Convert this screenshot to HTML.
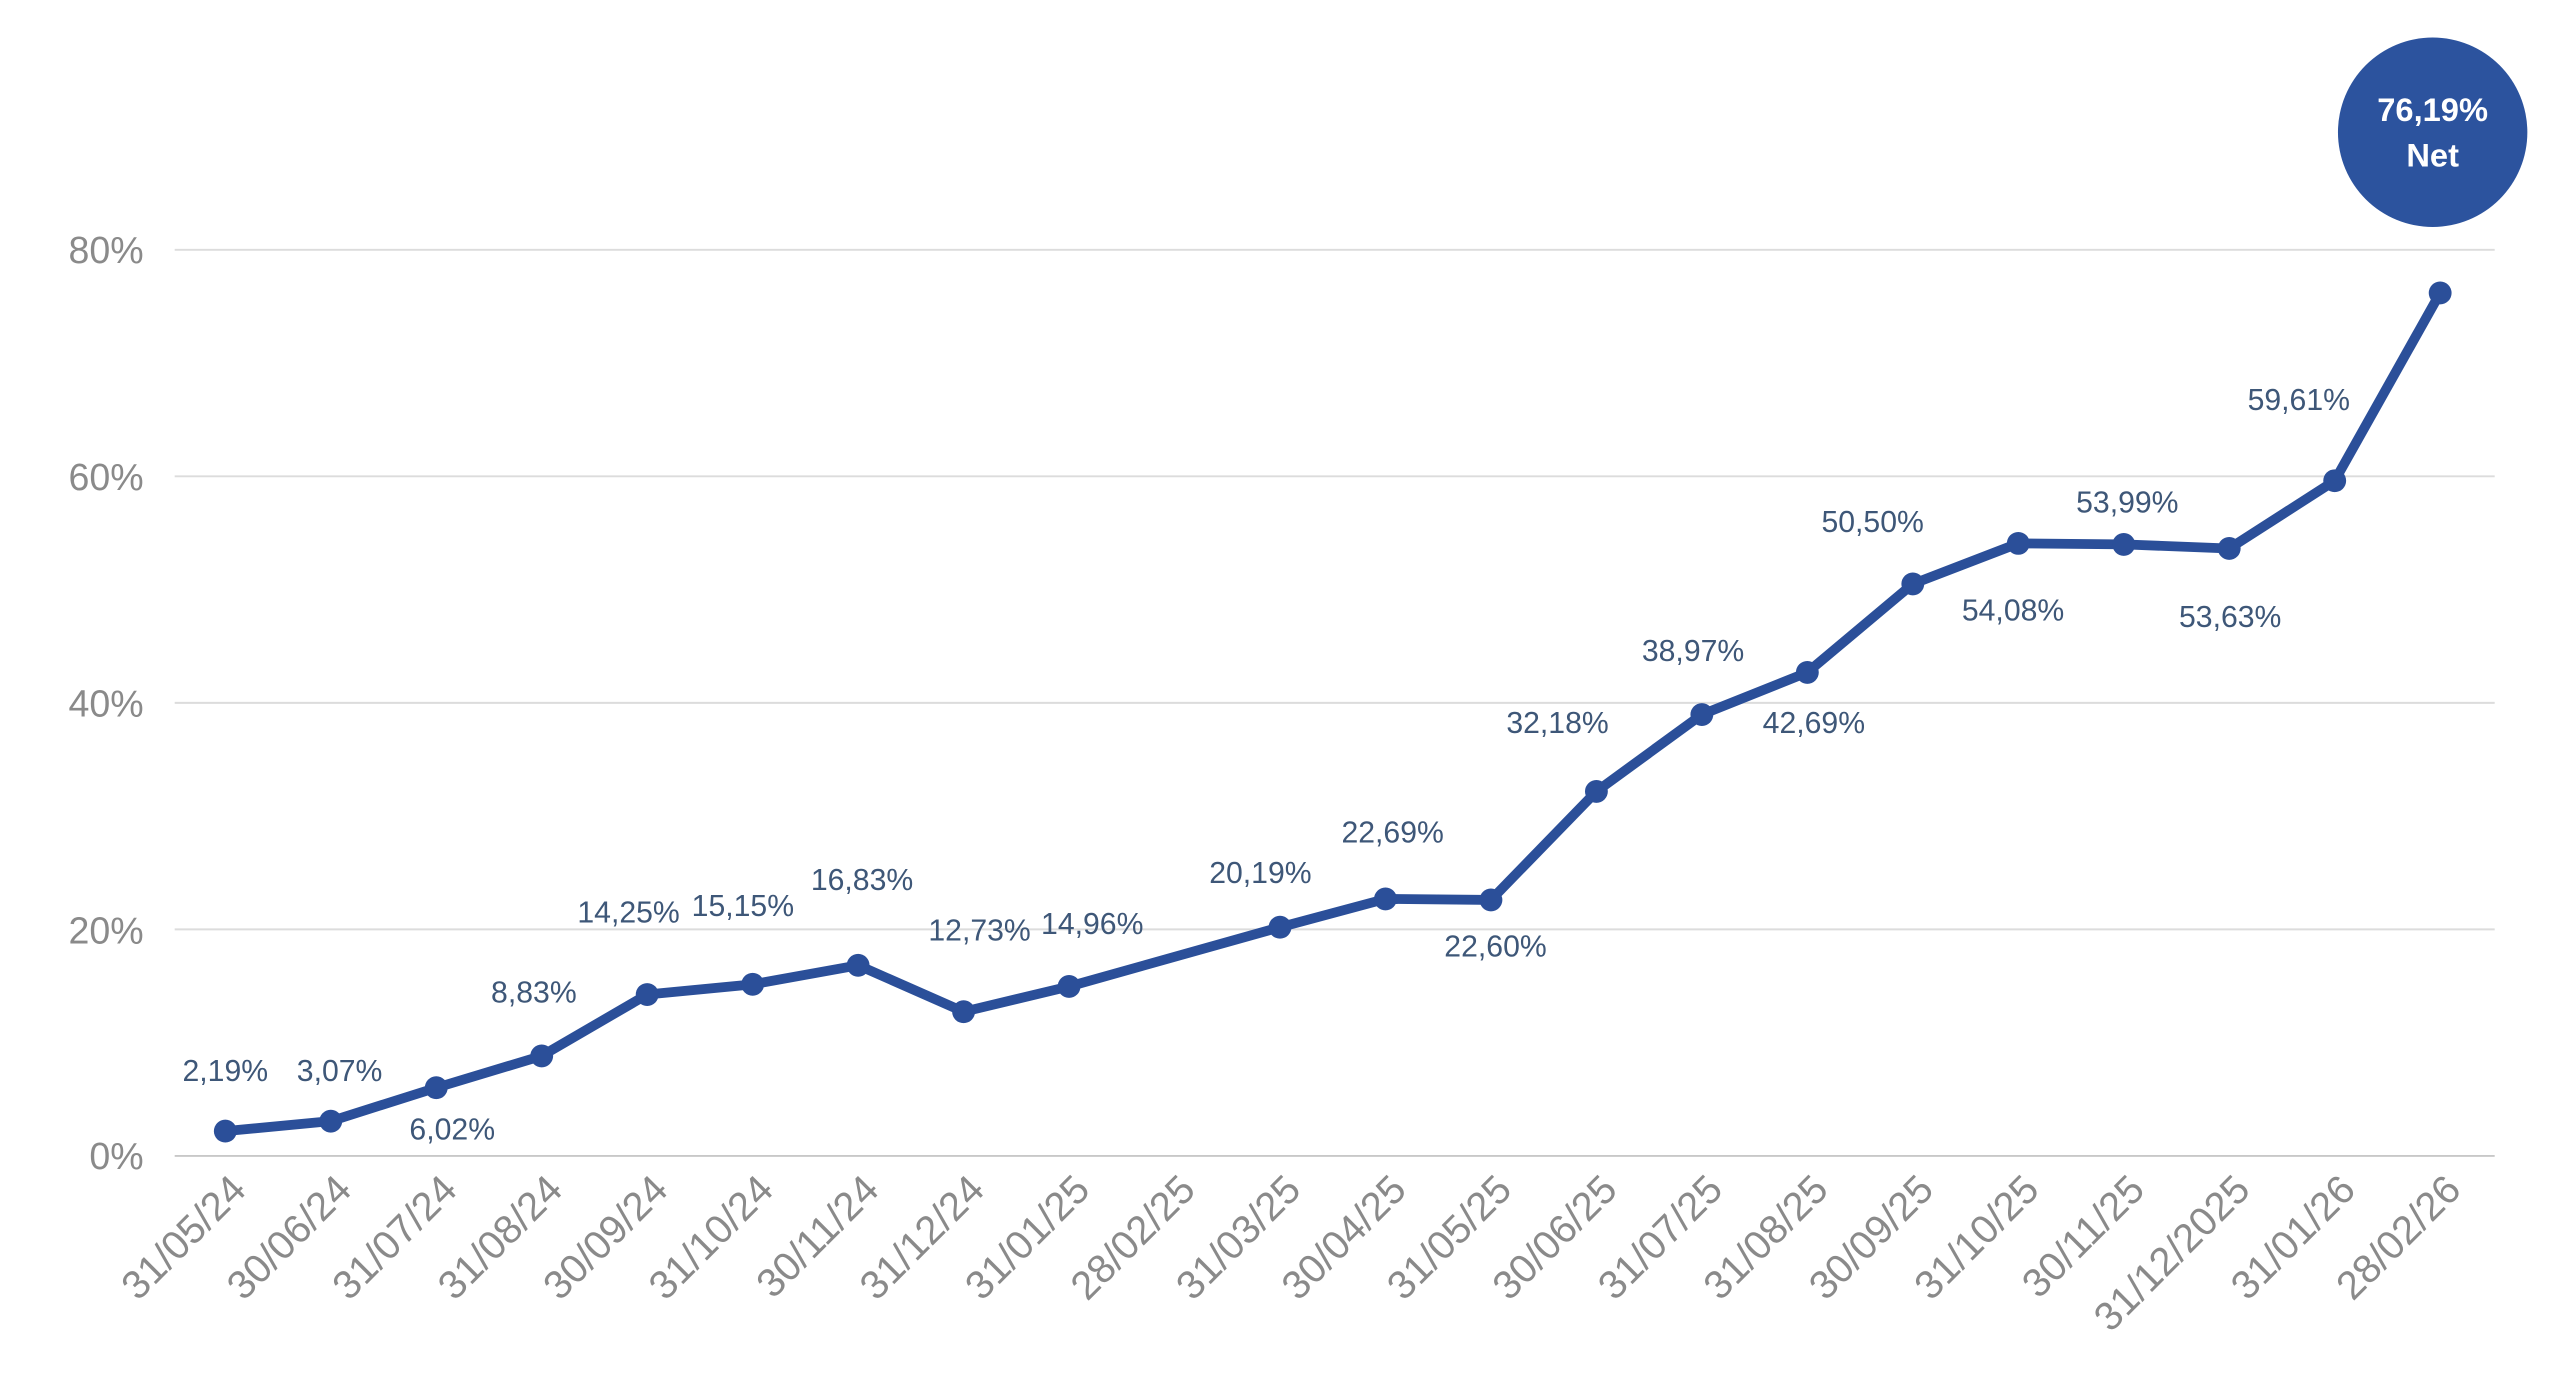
<!DOCTYPE html>
<html><head><meta charset="utf-8"><style>
html,body{margin:0;padding:0;background:#fff;}
svg{display:block;}
text{font-family:"Liberation Sans",sans-serif;}
</style></head><body>
<svg width="2560" height="1400" viewBox="0 0 1568 857.5" xmlns="http://www.w3.org/2000/svg">
<g stroke="#dcdcdc" stroke-width="1.2">
<line x1="107" x2="1528" y1="153" y2="153"/>
<line x1="107" x2="1528" y1="291.75" y2="291.75"/>
<line x1="107" x2="1528" y1="430.5" y2="430.5"/>
<line x1="107" x2="1528" y1="569.25" y2="569.25"/>
<line x1="107" x2="1528" y1="708" y2="708" stroke="#c8c8c8"/>
</g>
<g fill="#8a8a8a" font-size="23" text-anchor="end">
<text x="88" y="161">80%</text>
<text x="88" y="300">60%</text>
<text x="88" y="439">40%</text>
<text x="88" y="578">20%</text>
<text x="88" y="716">0%</text>
</g>
<g fill="#8a8a8a" font-size="24.5" text-anchor="end" id="xl"></g>
<polyline id="ln" fill="none" stroke="#2b4f99" stroke-width="6" stroke-linejoin="round" stroke-linecap="round"/>
<g id="mk" fill="#2b4f99"></g>
<g id="lb" fill="#3e5778" font-size="18.5" text-anchor="middle"></g>
<circle cx="1490" cy="81" r="58" fill="#2c539e"/>
<text x="1490" y="74" fill="#fff" font-size="20" font-weight="bold" text-anchor="middle">76,19%</text>
<text x="1490" y="102" fill="#fff" font-size="20" font-weight="bold" text-anchor="middle">Net</text>
<script>
var NS="http://www.w3.org/2000/svg";
var dates=["31/05/24","30/06/24","31/07/24","31/08/24","30/09/24","31/10/24","30/11/24","31/12/24","31/01/25","28/02/25","31/03/25","30/04/25","31/05/25","30/06/25","31/07/25","31/08/25","30/09/25","31/10/25","30/11/25","31/12/2025","31/01/26","28/02/26"];
var vals=[2.19,3.07,6.02,8.83,14.25,15.15,16.83,12.73,14.96,null,20.19,22.69,22.60,32.18,38.97,42.69,50.50,54.08,53.99,53.63,59.61,76.19];
var lab=[[138,656],[208,656],[277,692],[327,608],[385,559],[455,555],[528,539],[600,570],[669,566],null,[772,535],[853,510],[916,580],[954,443],[1037,399],[1111,443],[1147,320],[1233,374],[1303,308],[1366,378],[1408,245],null];
function X(i){return 138+i*64.6;}function Y(v){return 708-v*6.9375;}
var pts=[],xl=document.getElementById("xl"),mk=document.getElementById("mk"),lb=document.getElementById("lb");
dates.forEach(function(d,i){
 var t=document.createElementNS(NS,"text");var x=X(i)+14,y=730;
 t.setAttribute("x",x);t.setAttribute("y",y);t.setAttribute("transform","rotate(-45 "+x+" "+y+")");t.textContent=d;xl.appendChild(t);
 var v=vals[i];
 if(v!==null){pts.push(X(i)+","+Y(v));
  var c=document.createElementNS(NS,"circle");c.setAttribute("cx",X(i));c.setAttribute("cy",Y(v));c.setAttribute("r",7);mk.appendChild(c);}
 if(lab[i]){var s=document.createElementNS(NS,"text");s.setAttribute("x",lab[i][0]);s.setAttribute("y",lab[i][1]+6);s.textContent=v.toFixed(2).replace(".",",")+"%";lb.appendChild(s);}
});
document.getElementById("ln").setAttribute("points",pts.join(" "));
</script>
</svg>
</body></html>
